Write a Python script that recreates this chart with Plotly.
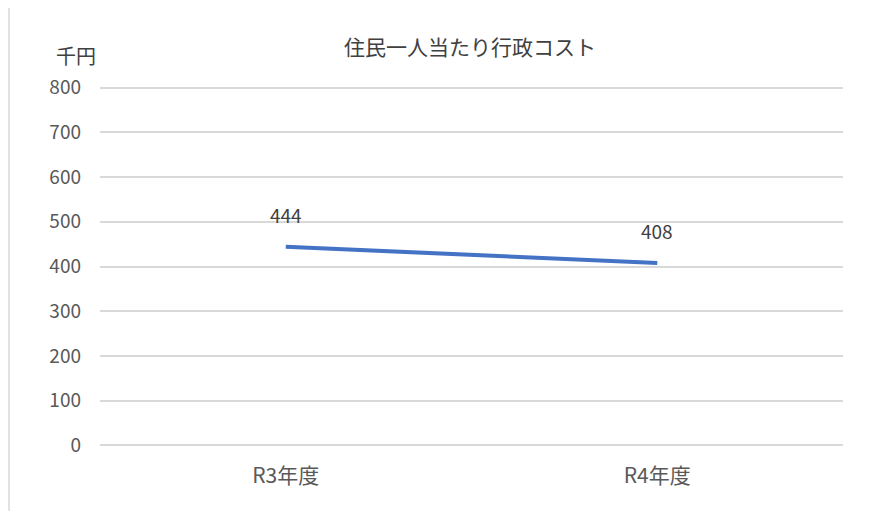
import plotly.graph_objects as go

categories = ["R3年度", "R4年度"]
values = [444, 408]
y_ticks = [0, 100, 200, 300, 400, 500, 600, 700, 800]
title_text = "住民一人当たり行政コスト"
unit_text = "千円"

FONT = "Noto Sans CJK JP"
GRAY = "#595959"

fig = go.Figure()
fig.add_trace(go.Scatter(
    x=categories, y=values, mode="lines",
    line=dict(color="#4472C4", width=4),
    hoverinfo="skip", showlegend=False,
))

for c, v in zip(categories, values):
    fig.add_annotation(x=c, y=v, text=str(v), showarrow=False,
                       xanchor="center", yanchor="middle",
                       yshift=32, font=dict(family=FONT, size=19, color="#404040"))

fig.add_annotation(xref="paper", yref="paper", x=-0.0323, y=1.0838,
                   xanchor="center", yanchor="middle",
                   text=unit_text, showarrow=False,
                   font=dict(family=FONT, size=20, color="#404040"))

fig.add_shape(type="rect", xref="paper", yref="paper",
              x0=-0.1225, x1=1.08, y0=-0.3, y1=1.2179,
              line=dict(color="#D9D9D9", width=1.5), layer="below")

fig.update_layout(
    width=875, height=511,
    margin=dict(l=92, r=40, t=78, b=72),
    paper_bgcolor="white", plot_bgcolor="white",
    font=dict(family=FONT, size=15, color=GRAY),
    title=dict(text=title_text, x=0.528, xanchor="center", y=1 - 40 / 511,
               yanchor="middle", yref="container",
               font=dict(family=FONT, size=21, color="#404040")),
    xaxis=dict(type="category", range=[-0.5, 1.5], showgrid=False,
               showline=False, zeroline=False, ticks="",
               ticklabelstandoff=14,
               tickfont=dict(family=FONT, size=21, color=GRAY)),
    yaxis=dict(range=[-4, 804], tickvals=y_ticks, showgrid=True,
               gridcolor="#D9D9D9", gridwidth=1.5, zeroline=False,
               showline=False, ticks="", ticklabelstandoff=18,
               tickfont=dict(family=FONT, size=19, color=GRAY)),
)

fig.write_html("out.html")
